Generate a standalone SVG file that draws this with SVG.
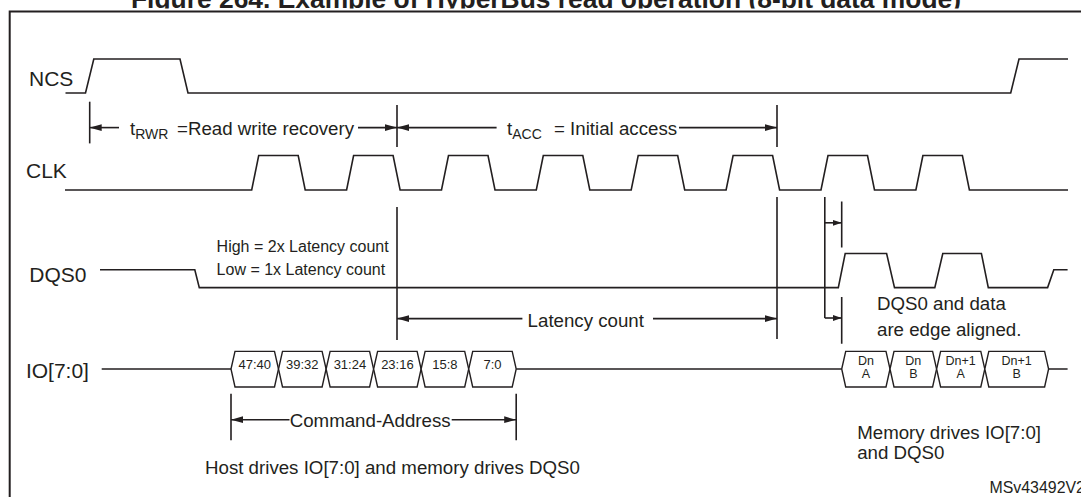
<svg xmlns="http://www.w3.org/2000/svg" width="1081" height="497" viewBox="0 0 1081 497">
<style>
.w{fill:none;stroke:#231f20;stroke-width:1.6;stroke-linejoin:miter}
.c{fill:none;stroke:#231f20;stroke-width:1.6}
.bx{fill:#fff;stroke:#231f20;stroke-width:1.4}
.t{font-family:"Liberation Sans",Arial,sans-serif;fill:#231f20}
.lab{font-size:21px}
.m{font-size:18.7px}
.sub{font-size:14px}
.s{font-size:16px}
.b{font-size:13px}
.d{font-size:12.5px}
</style>
<defs>
<clipPath id="tc"><rect x="0" y="-30" width="1081" height="38.5"/></clipPath>
<marker id="ah" viewBox="0 0 12 8" markerWidth="12" markerHeight="8" refX="12" refY="4" orient="auto-start-reverse" markerUnits="userSpaceOnUse"><path d="M0,0.6 L12,4 L0,7.4 z" fill="#231f20"/></marker>
<marker id="ahs" viewBox="0 0 9 7" markerWidth="9" markerHeight="7" refX="9" refY="3.5" orient="auto-start-reverse" markerUnits="userSpaceOnUse"><path d="M0,0.5 L9,3.5 L0,6.5 z" fill="#231f20"/></marker>
</defs>
<rect width="1081" height="497" fill="#fff"/>
<g id="title" clip-path="url(#tc)">
<text class="t" x="131" y="8" font-size="26.4" font-weight="bold">Figure 264. Example of HyperBus read operation (8-bit data mode)</text>
</g>
<g id="frame"><path d="M9.7,500 V11.4 H1085" fill="none" stroke="#231f20" stroke-width="2"/></g>

<g id="sig-ncs">
<text class="t lab" x="29" y="85.5">NCS</text>
<path class="w" d="M65.5,93 H85.5 L93.8,59 H180 L188,93 H1010.7 L1019,59 H1068"/>
</g>

<g id="sig-clk">
<text class="t lab" x="26" y="178">CLK</text>
<path class="w" d="M65,190 H251.7 L258.7,155.5 H298.2 L305.2,190 H346.6 L353.6,155.5 H393.1 L400.1,190 H441.5 L448.5,155.5 H488 L495,190 H536.3 L543.3,155.5 H582.8 L589.8,190 H631.2 L638.2,155.5 H677.7 L684.7,190 H726.1 L733.1,155.5 H772.6 L779.6,190 H821 L828,155.5 H867.5 L874.5,190 H915.9 L922.9,155.5 H962.4 L969.4,190 H1068"/>
</g>

<g id="sig-dqs0">
<text class="t lab" x="29.3" y="281.7">DQS0</text>
<path class="w" d="M100,269.7 H194.8 L199.3,287.6 H838.3 L845.2,253.5 H886.6 L894.5,287.6 H934.8 L942.8,253.5 H981.4 L988.3,287.6 H1047.6 L1053.8,269.7 H1067.6"/>
<text class="t s" x="216.6" y="252.4">High = 2x Latency count</text>
<text class="t s" x="216.6" y="274.8">Low = 1x Latency count</text>
</g>

<g id="sig-io">
<text class="t lab" x="25.9" y="377.6">IO[7:0]</text>
<path class="w" d="M101.7,369 H231 M516.2,369 H841.7 M1048.6,369 H1067.6"/>
<g id="io-4740"><polygon class="bx" points="231,369 235,351.4 274.5,351.4 278.5,369 274.5,387 235,387"/><text class="t b" x="254.8" y="369" text-anchor="middle">47:40</text></g>
<g id="io-3932"><polygon class="bx" points="278.5,369 282.5,351.4 322.1,351.4 326.1,369 322.1,387 282.5,387"/><text class="t b" x="302.3" y="369" text-anchor="middle">39:32</text></g>
<g id="io-3124"><polygon class="bx" points="326.1,369 330.1,351.4 369.6,351.4 373.6,369 369.6,387 330.1,387"/><text class="t b" x="349.9" y="369" text-anchor="middle">31:24</text></g>
<g id="io-2316"><polygon class="bx" points="373.6,369 377.6,351.4 417.1,351.4 421.1,369 417.1,387 377.6,387"/><text class="t b" x="397.4" y="369" text-anchor="middle">23:16</text></g>
<g id="io-158"><polygon class="bx" points="421.1,369 425.1,351.4 464.7,351.4 468.7,369 464.7,387 425.1,387"/><text class="t b" x="444.9" y="369" text-anchor="middle">15:8</text></g>
<g id="io-70"><polygon class="bx" points="468.7,369 472.7,351.4 512.2,351.4 516.2,369 512.2,387 472.7,387"/><text class="t b" x="492.5" y="369" text-anchor="middle">7:0</text></g>
<g id="io-dna"><polygon class="bx" points="841.7,369 845.7,351.4 886,351.4 890,369 886,387 845.7,387"/><text class="t d" x="865.9" y="364.5" text-anchor="middle">Dn</text><text class="t d" x="865.9" y="378.3" text-anchor="middle">A</text></g>
<g id="io-dnb"><polygon class="bx" points="890,369 894,351.4 932.6,351.4 936.6,369 932.6,387 894,387"/><text class="t d" x="913.3" y="364.5" text-anchor="middle">Dn</text><text class="t d" x="913.3" y="378.3" text-anchor="middle">B</text></g>
<g id="io-dn1a"><polygon class="bx" points="936.6,369 940.6,351.4 980.8,351.4 984.8,369 980.8,387 940.6,387"/><text class="t d" x="960.7" y="364.5" text-anchor="middle">Dn+1</text><text class="t d" x="960.7" y="378.3" text-anchor="middle">A</text></g>
<g id="io-dn1b"><polygon class="bx" points="984.8,369 988.8,351.4 1044.6,351.4 1048.6,369 1044.6,387 988.8,387"/><text class="t d" x="1016.7" y="364.5" text-anchor="middle">Dn+1</text><text class="t d" x="1016.7" y="378.3" text-anchor="middle">B</text></g>
</g>

<g id="connectors">
<path class="c" d="M89.7,101.7 V143.4"/>
<path class="c" d="M397,105 V147 M397,207 V340"/>
<path class="c" d="M777,105 V147 M777,197 V339"/>
<path class="c" d="M824.8,197 V318"/>
<path class="c" d="M841.7,201.4 V247.6 M841.7,297 V343.8"/>
<path class="c" d="M231,393.8 V440.3 M516.2,393.8 V440.3"/>
<path class="c" d="M89.7,127.6 H119" marker-start="url(#ah)"/>
<path class="c" d="M358,127.6 H397" marker-end="url(#ah)"/>
<path class="c" d="M397,127.6 H496.6" marker-start="url(#ah)"/>
<path class="c" d="M679,127.6 H777" marker-end="url(#ah)"/>
<path class="c" d="M824.8,222.8 H841.7" marker-end="url(#ahs)"/>
<path class="c" d="M824.8,318 H841.7" marker-end="url(#ahs)"/>
<path class="c" d="M397,318.6 H522.4" marker-start="url(#ah)"/>
<path class="c" d="M653,318.6 H777" marker-end="url(#ah)"/>
<path class="c" d="M231,419.7 H289.5" marker-start="url(#ah)"/>
<path class="c" d="M451.7,419.7 H516.2" marker-end="url(#ah)"/>
</g>

<g id="labels">
<text class="t m" x="130" y="135">t<tspan class="sub" y="139">RWR</tspan><tspan x="177" y="135">=Read write recovery</tspan></text>
<text class="t m" x="507" y="135">t<tspan class="sub" y="139">ACC</tspan><tspan x="554" y="135">= Initial access</tspan></text>
<text class="t m" x="527.6" y="326.5">Latency count</text>
<text class="t m" x="877" y="310.3">DQS0 and data</text>
<text class="t m" x="877" y="335.5">are edge aligned.</text>
<text class="t m" x="289.7" y="426.6">Command-Address</text>
<text class="t m" x="205" y="474">Host drives IO[7:0] and memory drives DQS0</text>
<text class="t m" x="857.2" y="438.6">Memory drives IO[7:0]</text>
<text class="t m" x="857.2" y="459.3">and DQS0</text>
<text class="t" x="989.5" y="492.7" font-size="15.9">MSv43492V2</text>
</g>
</svg>
